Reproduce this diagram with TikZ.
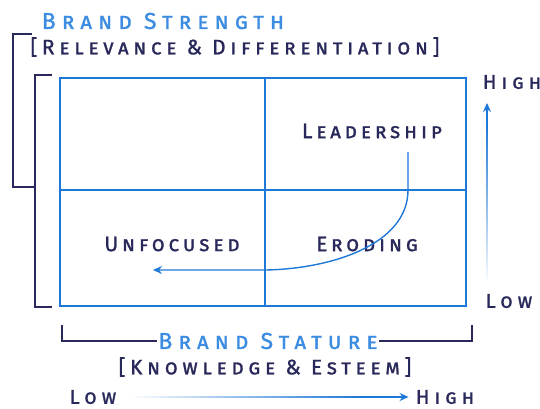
\documentclass[tikz,border=0pt]{standalone}
\usepackage{fontspec}
\usepackage{xcolor}
\usetikzlibrary{arrows.meta,fadings}
\newfontfamily\capsfont[FakeBold=1.2]{Fira Sans}
\definecolor{gridblue}{RGB}{30,120,215}
\definecolor{titleblue}{RGB}{60,140,225}
\definecolor{navy}{RGB}{40,40,90}
\newcommand{\capsat}[2]{\capsfont\scshape\fontsize{#1}{#1}\selectfont\addfontfeatures{LetterSpace=#2}}
\tikzfading[name=tailup, bottom color=transparent!100, middle color=transparent!0, top color=transparent!0]
\tikzfading[name=tailright, left color=transparent!100, middle color=transparent!0, right color=transparent!0]
\tikzset{
  gridline/.style={gridblue, line width=1.8pt},
  bracket/.style={navy, line width=2pt},
  flow/.style={gridblue, line width=1.4pt, arrows={-Stealth[length=9pt,width=8pt]}},
  label/.style={font=\capsat{21}{18}, text=navy, inner sep=1pt},
  subtitle/.style={label, font=\capsat{21}{22}},
  title/.style={label, font=\capsat{23}{26}, text=titleblue},
  axislabel/.style={label, font=\capsat{20}{25}}
}
\begin{document}
\begin{tikzpicture}[x=1pt,y=-1pt]
    \useasboundingbox (0,0) rectangle (540,408);

    % grid
    \coordinate (NW) at (60,78);
    \coordinate (SE) at (466,306);
    \draw[gridline] (NW) rectangle (SE);
    \draw[gridline] (265,78) -- (265,306);
    \draw[gridline] (60,190) -- (466,190);

    % quadrants
    \node[label] (lead) at (372,131) {Leadership};
    \node[label] (erod) at (367,244) {Eroding};
    \node[label] (unfoc) at (172,244) {Unfocused};

    \coordinate (start) at (408,152);
    \coordinate (turn) at (408,190);
    \draw[flow] (start) -- (turn) .. controls (408,245) and (330,269) .. (265,270) -- (153,270);

    % vertical axis
    \node[title] (strength) at (163,21) {Brand Strength};
    \node[subtitle] (relev) at (235,47) {[Relevance \& Differentiation]};
    \node[axislabel] (vhigh) at (512,82) {High};
    \node[axislabel] (vlow) at (509,301) {Low};
    \coordinate (vtail) at (487,280);
    \coordinate (vtip) at (487,103);
    \draw[flow, path fading=tailup, fit fading=false,
          fading transform={shift={(487,205)}, yscale=3.2}] (vtail) -- (vtip);

    \draw[bracket] (32,34) -- (13,34) -- (13,187) -- (35,187);
    \draw[bracket] (52,75) -- (35,75) -- (35,307) -- (52,307);

    % horizontal axis
    \node[title] (stature) at (268,341) {Brand Stature};
    \node[subtitle] (know) at (265,367) {[Knowledge \& Esteem]};
    \node[axislabel] (hlow) at (93,397) {Low};
    \node[axislabel] (hhigh) at (445,397) {High};
    \draw[bracket] (62,325) |- (stature.west);
    \draw[bracket] (472,325) |- (stature.east);
    \draw[flow, shorten <=10pt, shorten >=6pt, path fading=tailright, fit fading=false,
          fading transform={shift={(245,397)}, xscale=4.6}] (hlow) -- (hhigh);
\end{tikzpicture}
\end{document}
